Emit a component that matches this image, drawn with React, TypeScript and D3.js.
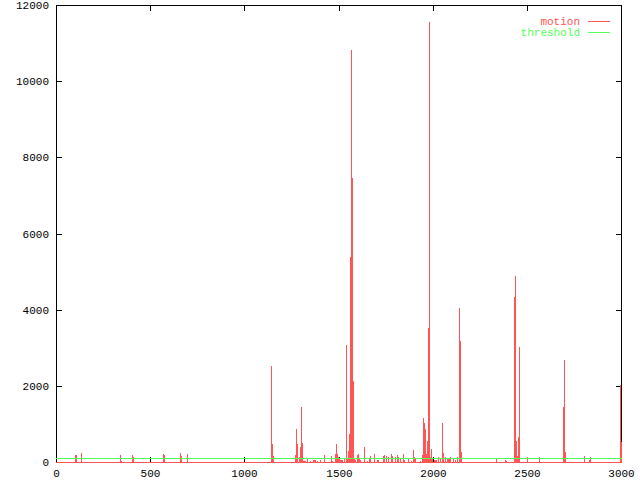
import React from "react";
import * as d3 from "d3";

const motionFrames = [
  102, 108, 134, 341, 347, 405, 410, 570, 575, 660, 665, 697,
  1143, 1148, 1154, 1271, 1276, 1281, 1292, 1297, 1302, 1308, 1313, 1318, 1324, 1334, 1350,
  1366, 1371, 1377, 1387, 1403, 1425, 1462, 1467, 1483, 1488, 1493, 1499, 1504, 1509, 1515,
  1520, 1531, 1541, 1547, 1552, 1557, 1563, 1568, 1573, 1579, 1584, 1589, 1600, 1605, 1610,
  1616, 1637, 1653, 1663, 1669, 1690, 1706, 1711, 1738, 1743, 1754, 1764, 1780, 1786, 1801,
  1812, 1817, 1828, 1844, 1849, 1871, 1886, 1897, 1902, 1908, 1934, 1945, 1950, 1955, 1961,
  1966, 1971, 1977, 1982, 1987, 1993, 1998, 2009, 2014, 2019, 2030, 2041, 2051, 2056, 2067,
  2078, 2083, 2088, 2094, 2110, 2120, 2131, 2141, 2147, 2152,
  2338, 2386, 2391, 2434, 2439, 2444, 2449, 2455, 2460, 2503, 2566, 2694, 2699, 2704,
  2805, 2832, 2837, 2995, 3000,
];
const motionValues = [
  192, 192, 244, 192, 34, 192, 139, 218, 192, 244, 165, 218,
  2529, 481, 165, 192, 874, 481, 139, 402, 1452, 507, 34, 34, 34, 87, 34,
  60, 60, 60, 20, 60, 192, 165, 34, 218, 481, 218, 139, 113, 60, 60,
  60, 87, 3080, 87, 297, 743, 5391, 10827, 7466, 2135, 87, 60, 192, 218, 87,
  60, 402, 34, 87, 165, 218, 60, 60, 165, 192, 165, 139, 218, 165, 139,
  192, 139, 87, 218, 60, 87, 34, 323, 139, 87, 34, 192, 1163, 1032, 874,
  218, 559, 3527, 11562, 139, 349, 87, 60, 60, 60, 139, 87, 1032, 244, 139,
  87, 87, 87, 139, 87, 60, 139, 4052, 3185, 270,
  87, 60, 34, 4341, 4892, 559, 165, 664, 3028, 139, 139, 1452, 2686, 270,
  165, 60, 139, 2030, 533,
];
const thresholdValue = 100;
const xTicks = [0, 500, 1000, 1500, 2000, 2500, 3000];
const yTicks = [0, 2000, 4000, 6000, 8000, 10000, 12000];
const seriesNames = ["motion", "threshold"];

const RED = "#ff5555";
const GREEN = "#55ff55";
const FONT = "'Liberation Mono', 'DejaVu Sans Mono', monospace";

export default function App() {
  const W = 640;
  const H = 480;
  const x = d3.scaleLinear().domain([0, 3000]).range([56.5, 621.5]);
  const y = d3.scaleLinear().domain([0, 12000]).range([462.5, 5.5]);
  const left = x(0);
  const right = x(3000);
  const top = y(12000);
  const bottom = y(0);
  const col = (v: number) => Math.floor(x(v));
  const row = (v: number) => Math.floor(y(v));
  const data = motionFrames.map((f, i) => ({ f, v: motionValues[i] }));
  const tickLen = 5;

  return (
    <svg
      width={W}
      height={H}
      style={{ position: "absolute", left: 0, top: 0, background: "#fff" }}
      shapeRendering="crispEdges"
    >
      <rect x={0} y={0} width={W} height={H} fill="#fff" />
      {/* border */}
      <rect
        x={left}
        y={top}
        width={right - left}
        height={bottom - top}
        fill="none"
        stroke="#000"
        strokeWidth={1}
      />
      {/* x ticks */}
      {xTicks.map((t) => {
        const cx = col(t) + 0.5;
        return (
          <g key={"xt" + t}>
            <line x1={cx} x2={cx} y1={bottom} y2={bottom - tickLen - 0.5} stroke="#000" />
            <line x1={cx} x2={cx} y1={top} y2={top + tickLen + 0.5} stroke="#000" />
            <text
              x={cx}
              y={477}
              textAnchor="middle"
              fontFamily={FONT}
              fontSize={11}
              fill="#000"
            >
              {t}
            </text>
          </g>
        );
      })}
      {/* y ticks */}
      {yTicks.map((t) => {
        const cy = row(t) + 0.5;
        return (
          <g key={"yt" + t}>
            <line x1={left} x2={left + tickLen + 0.5} y1={cy} y2={cy} stroke="#000" />
            <line x1={right} x2={right - tickLen - 0.5} y1={cy} y2={cy} stroke="#000" />
            <text
              x={49}
              y={row(t) + 4}
              textAnchor="end"
              fontFamily={FONT}
              fontSize={11}
              fill="#000"
            >
              {t}
            </text>
          </g>
        );
      })}
      {/* motion impulses */}
      <line x1={left - 0.5} x2={right + 0.5} y1={bottom} y2={bottom} stroke={RED} />
      {data.map((d, i) => {
        const c = col(d.f);
        const r = row(d.v);
        return (
          <rect
            key={"m" + i}
            x={c}
            y={r}
            width={1}
            height={row(0) + 1 - r}
            fill={RED}
          />
        );
      })}
      {/* threshold */}
      <line
        x1={left - 0.5}
        x2={right + 0.5}
        y1={row(thresholdValue) + 0.5}
        y2={row(thresholdValue) + 0.5}
        stroke={GREEN}
      />
      {/* legend */}
      {seriesNames.map((name, i) => {
        const color = i === 0 ? RED : GREEN;
        const ly = 21.5 + i * 11;
        return (
          <g key={name}>
            <text
              x={580}
              y={25 + i * 11}
              textAnchor="end"
              fontFamily={FONT}
              fontSize={11}
              fill={color}
            >
              {name}
            </text>
            <line x1={588} x2={610} y1={ly} y2={ly} stroke={color} />
          </g>
        );
      })}
    </svg>
  );
}
